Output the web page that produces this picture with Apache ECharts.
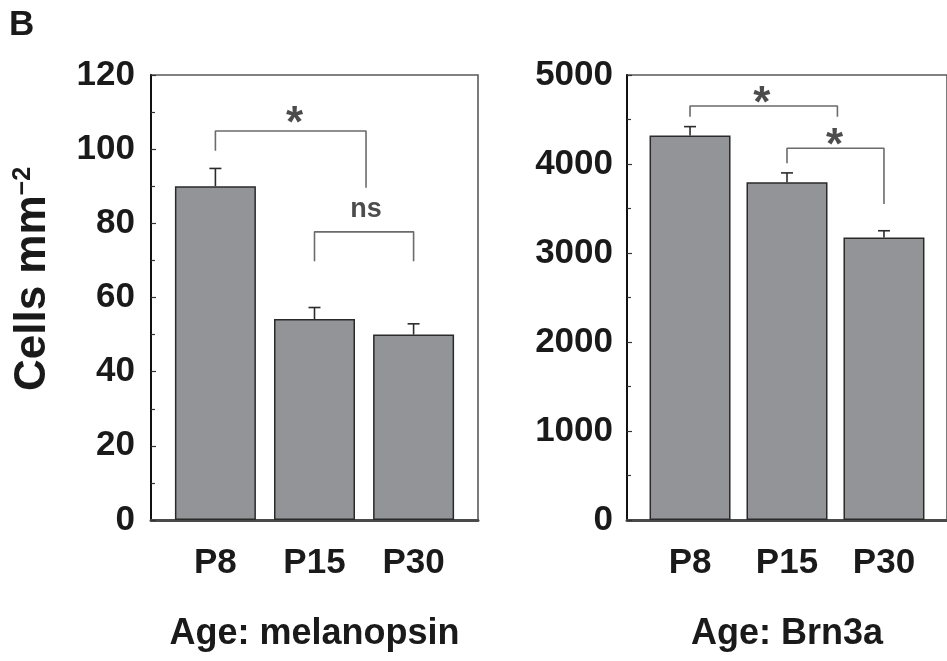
<!DOCTYPE html>
<html>
<head>
<meta charset="utf-8">
<script src="https://cdn.jsdelivr.net/npm/echarts@6/dist/echarts.min.js"></script>
<style>
  html, body { margin: 0; padding: 0; background: #fff; }
  #chart { width: 947px; height: 661px; }
</style>
</head>
<body>
<div id="chart"></div>
<script>
// Categories (postnatal ages) shared by both panels
const categories = ['P8', 'P15', 'P30'];
const categoryPositions = [1, 2, 3];

// Melanopsin-positive cell density (mean and error)
const melanopsinMean = [90, 54.2, 50];
const melanopsinErr = [4.8, 3.1, 2.9];

// Brn3a-positive cell density (mean and error)
const brn3aMean = [4320, 3795, 3175];
const brn3aErr = [100, 105, 75];

// Y axis ranges
const melanopsinAxis = { min: 0, max: 120, interval: 20 };
const brn3aAxis = { min: 0, max: 5000, interval: 1000 };

// Significance brackets: [xStart, legStartBottom, xEnd, legEndBottom, barHeight]
const melanopsinBrackets = [
  [1, 99.6, 2.52, 89.6, 104.9],
  [2, 69.8, 3, 69.8, 77.7]
];
const brn3aBrackets = [
  [1, 4532, 2.52, 4532, 4652],
  [2, 4008, 3, 3551, 4177]
];

// Significance marks: [x, y, text]
const melanopsinMarks = [
  [1.8, 106.6, '*'],
  [2.52, 83.6, 'ns']
];
const brn3aMarks = [
  [1.74, 4665, '*'],
  [2.49, 4196, '*']
];

const FONT = "'Liberation Sans', Arial, sans-serif";

function barData(means) {
  return means.map((v, i) => [categoryPositions[i], v]);
}
function errData(means, errs) {
  return means.map((v, i) => [categoryPositions[i], v, errs[i]]);
}

function errorBarSeries(idx, means, errs) {
  return {
    type: 'custom',
    xAxisIndex: idx,
    yAxisIndex: idx,
    silent: true,
    z: 5,
    encode: { x: 0, y: 1 },
    data: errData(means, errs),
    renderItem: function (params, api) {
      const x = api.value(0), y = api.value(1), e = api.value(2);
      const base = api.coord([x, y]);
      const top = api.coord([x, y + e]);
      const style = { stroke: '#2b2b2b', lineWidth: 1.6 };
      return {
        type: 'group',
        children: [
          { type: 'line', shape: { x1: base[0], y1: base[1], x2: top[0], y2: top[1] }, style: style },
          { type: 'line', shape: { x1: top[0] - 6, y1: top[1], x2: top[0] + 6, y2: top[1] }, style: style }
        ]
      };
    }
  };
}

function bracketSeries(idx, brackets) {
  return brackets.map(b => ({
    type: 'line',
    xAxisIndex: idx,
    yAxisIndex: idx,
    silent: true,
    symbol: 'none',
    z: 6,
    lineStyle: { color: '#6b6b6b', width: 1.6 },
    data: [[b[0], b[1]], [b[0], b[4]], [b[2], b[4]], [b[2], b[3]]]
  }));
}

function markSeries(idx, marks) {
  return {
    type: 'scatter',
    xAxisIndex: idx,
    yAxisIndex: idx,
    silent: true,
    symbolSize: 0,
    z: 7,
    data: marks.map(m => ({
      value: [m[0], m[1]],
      label: {
        show: true,
        position: 'inside',
        formatter: m[2],
        color: '#1f1f1f',
        fontFamily: FONT,
        fontWeight: 'bold',
        fontSize: m[2] === '*' ? 44 : 27
      }
    }))
  };
}

function xAxisFor(idx, title) {
  return {
    type: 'value',
    gridIndex: idx,
    min: 0.35,
    max: 3.65,
    axisLine: { show: true, onZero: false, lineStyle: { color: '#4a4a4a', width: 3 } },
    axisTick: { show: false },
    splitLine: { show: false },
    axisLabel: {
      customValues: categoryPositions,
      formatter: v => categories[categoryPositions.indexOf(v)] || '',
      margin: 26,
      color: '#1a1a1a',
      fontFamily: FONT,
      fontWeight: 'bold',
      fontSize: 35
    },
    name: title,
    nameLocation: 'middle',
    nameGap: 96,
    nameTextStyle: { color: '#1a1a1a', fontFamily: FONT, fontWeight: 'bold', fontSize: 36 }
  };
}

function yAxisFor(idx, range, margin) {
  return {
    type: 'value',
    gridIndex: idx,
    min: range.min,
    max: range.max,
    interval: range.interval,
    minorTick: { show: true, splitNumber: 2, length: 4, lineStyle: { color: '#333', width: 1.2 } },
    axisLine: { show: true, lineStyle: { color: '#111', width: 2 } },
    axisTick: { show: true, inside: true, length: 5, lineStyle: { color: '#333', width: 1.2 } },
    splitLine: { show: false },
    axisLabel: {
      margin: margin,
      formatter: v => String(v),
      color: '#1a1a1a',
      fontFamily: FONT,
      fontWeight: 'bold',
      fontSize: 35
    }
  };
}

const barStyle = { color: '#939497', borderColor: '#2a2a2a', borderWidth: 1.5 };

const option = {
  animation: false,
  backgroundColor: '#fff',
  grid: [
    { left: 151, top: 75, width: 327, height: 445, show: true, borderColor: '#5a5a5a', borderWidth: 1.6, backgroundColor: 'transparent' },
    { left: 627, top: 75, width: 327, height: 445, show: true, borderColor: '#5a5a5a', borderWidth: 1.6, backgroundColor: 'transparent' }
  ],
  xAxis: [xAxisFor(0, 'Age: melanopsin'), xAxisFor(1, 'Age: Brn3a')],
  yAxis: [yAxisFor(0, melanopsinAxis, 16), yAxisFor(1, brn3aAxis, 14)],
  graphic: [
    {
      type: 'text',
      left: 9,
      top: 8,
      style: { text: 'B', fill: '#1a1a1a', font: "bold 35px " + FONT }
    },
    {
      type: 'text',
      x: 33,
      y: 279,
      rotation: Math.PI / 2,
      style: {
        text: 'Cells mm{sup|\u22122}',
        fill: '#1a1a1a',
        font: "bold 44px " + FONT,
        align: 'center',
        verticalAlign: 'middle',
        rich: {
          sup: { fontSize: 25, fontWeight: 'bold', fontFamily: FONT, verticalAlign: 'top', fill: '#1a1a1a' }
        }
      }
    }
  ],
  series: [
    { type: 'bar', xAxisIndex: 0, yAxisIndex: 0, barWidth: 81, silent: true, itemStyle: barStyle, data: barData(melanopsinMean) },
    { type: 'bar', xAxisIndex: 1, yAxisIndex: 1, barWidth: 81, silent: true, itemStyle: barStyle, data: barData(brn3aMean) },
    errorBarSeries(0, melanopsinMean, melanopsinErr),
    errorBarSeries(1, brn3aMean, brn3aErr),
    ...bracketSeries(0, melanopsinBrackets),
    ...bracketSeries(1, brn3aBrackets),
    markSeries(0, melanopsinMarks),
    markSeries(1, brn3aMarks)
  ]
};

const chart = echarts.init(document.getElementById('chart'), null, { renderer: 'canvas' });
chart.setOption(option);
</script>
</body>
</html>
